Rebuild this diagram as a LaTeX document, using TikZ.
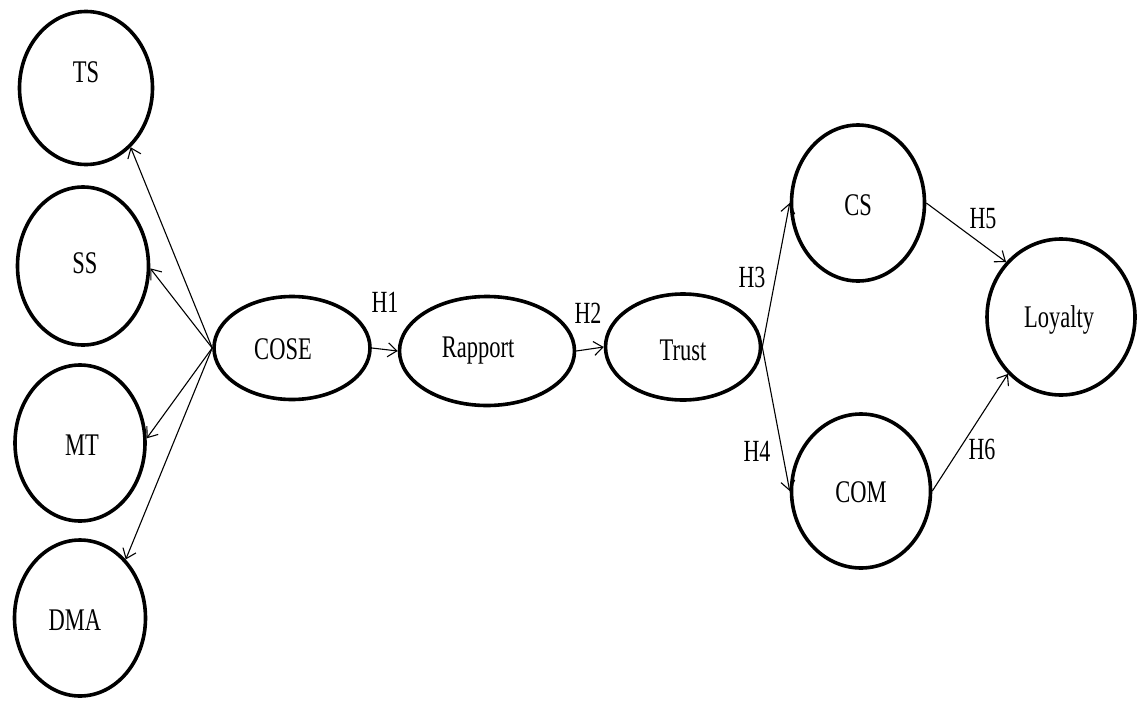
\documentclass[tikz,border=0pt]{standalone}
\usepackage{fontspec}
\setmainfont{Liberation Serif}
\newfontfamily\tnr{Liberation Serif}
\usetikzlibrary{shapes.geometric,arrows.meta}
\newcommand\vt[1]{\scalebox{1}[1.4]{#1}}
\begin{document}
\begin{tikzpicture}[x=1pt,y=-1pt,
  lat/.style={ellipse, draw, line width=3.6pt, inner sep=0pt},
  txt/.style={font=\tnr\fontsize{22.5}{24}\selectfont, inner sep=0pt},
  hl/.style={font=\tnr\fontsize{22}{24}\selectfont, inner sep=0pt},
  arr/.style={-{Straight Barb[length=9pt,width=14pt]}, line width=1.1pt}]
\useasboundingbox[fill=white] (0,0) rectangle (1139,701);
% left constructs
\node[lat, minimum width=133pt, minimum height=153pt, label={[txt,yshift=16pt]center:\vt{TS}}] (ts) at (86,88) {};
\node[lat, minimum width=131pt, minimum height=158pt, label={[txt,yshift=3pt,xshift=2pt]center:\vt{SS}}] (ss) at (83,266) {};
\node[lat, minimum width=130pt, minimum height=156pt, label={[txt,yshift=-2pt,xshift=2pt]center:\vt{MT}}] (mt) at (80,443) {};
\node[lat, minimum width=131pt, minimum height=156pt, label={[txt,yshift=-2pt,xshift=-5pt]center:\vt{DMA}}] (dma) at (80,618) {};
% chain
\node[lat, minimum width=156pt, minimum height=103pt, label={[txt,xshift=-9pt,yshift=-1pt]center:\vt{COSE}}] (cose) at (292,348) {};
\node[lat, minimum width=175pt, minimum height=109pt, label={[txt,xshift=-9pt,yshift=0pt]center:\vt{Rapport}}] (rap) at (487,351) {};
\node[lat, minimum width=155pt, minimum height=106pt, label={[txt,yshift=-3pt]center:\vt{Trust}}] (trust) at (683,347) {};
% right constructs
\node[lat, minimum width=133pt, minimum height=156pt, label={[txt,yshift=-2pt]center:\vt{CS}}] (cs) at (858,203) {};
\node[lat, minimum width=139pt, minimum height=154pt, label={[txt,yshift=-1pt]center:\vt{COM}}] (com) at (861,491) {};
\node[lat, minimum width=148pt, minimum height=156pt, label={[txt,xshift=-2pt,yshift=-3pt]center:\vt{Loyalty}}] (loy) at (1061,317) {};
% connectors
\draw[arr] (cose.west) -- (ts.-53);
\draw[arr] (cose.west) -- (ss.-2);
\draw[arr] (cose.west) -- (mt.4);
\draw[arr] (cose.west) -- (dma.52);
\draw[arr] (cose.east) -- (rap.west);
\draw[arr] (rap.east) -- (trust.west);
\draw[arr] (trust.east) -- (cs.west);
\draw[arr] (trust.east) -- (com.west);
\draw[arr] (cs.east) -- (loy.135);
\draw[arr] (com.east) -- (loy.227);
% path labels
\node[hl] (h1) at (385,302) {\vt{H1}};
\node[hl] (h2) at (588,313) {\vt{H2}};
\node[hl] (h3) at (752,277) {\vt{H3}};
\node[hl] (h4) at (757,451) {\vt{H4}};
\node[hl] (h5) at (983,219) {\vt{H5}};
\node[hl] (h6) at (982,449) {\vt{H6}};
\end{tikzpicture}
\end{document}
